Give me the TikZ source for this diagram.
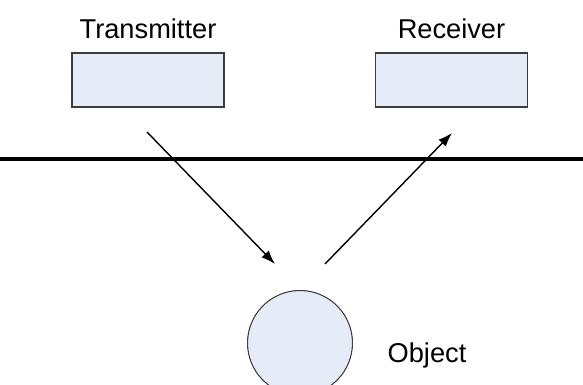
\documentclass[tikz,border=0pt]{standalone}
\usepackage{fontspec}
\setmainfont{Liberation Sans}
\usetikzlibrary{arrows.meta,positioning}

\definecolor{boxfill}{HTML}{E6ECF7}
\definecolor{boxline}{HTML}{3C3C3C}

\tikzset{
  unit/.style={draw=boxline, fill=boxfill, line width=0.85pt,
    minimum width=3.04cm, minimum height=1.08cm, inner sep=0pt},
  target/.style={circle, draw=boxline, fill=boxfill, line width=0.6pt,
    minimum size=2.1cm, inner sep=0pt},
  ray/.style={-{Latex[length=0.28cm, width=0.2cm]}, line width=0.8pt},
  lbl/.style={font=\fontsize{15.5}{18}\selectfont}
}

\begin{document}
\begin{tikzpicture}[x=0.02cm, y=-0.02cm]
  \useasboundingbox (0,0) rectangle (583,385);
  \clip (0,0) rectangle (583,385);

  % Sender og mottaker
  \node[unit] (tx) at (148,80) {};
  \node[unit] (rx) at (451.5,80) {};
  \node[lbl, above=0.14cm of tx] (txlabel) {Transmitter};
  \node[lbl, above=0.14cm of rx] (rxlabel) {Receiver};

  % Grenseflate
  \draw[line width=2.8pt] (0,159) -- (583,159);

  % Objekt
  \node[target] (obj) at (300,343) {};
  \node[lbl] (objlabel) at (427,355) {Object};

  % Stråler
  \coordinate (sendstart) at (147,132);
  \coordinate (sendend) at (275,264);
  \coordinate (echostart) at (325,264);
  \coordinate (echoend) at (452,133);
  \draw[ray] (sendstart) -- (sendend);
  \draw[ray] (echostart) -- (echoend);
\end{tikzpicture}
\end{document}
